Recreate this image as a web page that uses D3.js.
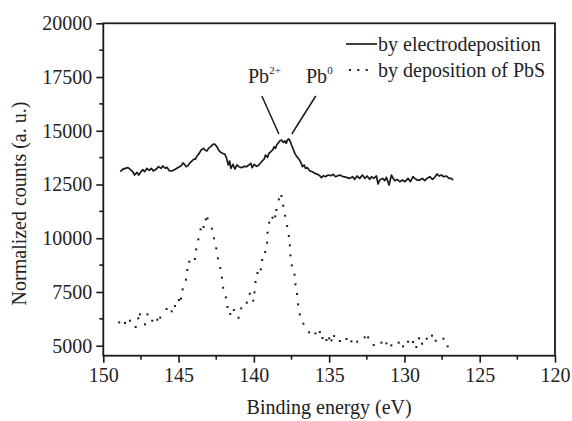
<!DOCTYPE html>
<html><head><meta charset="utf-8">
<script src="https://cdn.jsdelivr.net/npm/d3@7"></script>
<style>body{margin:0;background:#fff}svg{display:block}</style>
</head><body>
<svg id="c" width="572" height="421"></svg>
<script>
// ---- data ----
const xTicks = [150,145,140,135,130,125,120];
const yTicks = [5000,7500,10000,12500,15000,17500,20000];
const seriesNames = ["by electrodeposition","by deposition of PbS"];
const solidE = [148.87,148.72,148.54,148.36,148.21,148.05,147.92,147.76,147.65,147.50,147.37,147.26,147.10,146.95,146.81,146.68,146.50,146.33,146.17,146.04,145.88,145.77,145.62,145.44,145.22,145.00,144.82,144.71,144.60,144.51,144.38,144.22,144.11,143.98,143.89,143.76,143.63,143.50,143.34,143.23,143.12,143.01,142.87,142.72,142.61,142.46,142.34,142.21,142.08,
141.92,141.81,141.70,141.61,141.53,141.39,141.26,141.13,140.99,140.82,140.64,140.49,140.33,140.20,140.11,139.98,139.82,139.67,139.49,139.31,139.23,139.09,139.00,138.87,138.76,138.65,138.56,138.47,138.39,138.27,138.16,138.05,137.94,137.85,137.77,137.68,137.59,137.50,137.39,137.28,137.15,137.01,136.88,136.77,136.66,136.57,136.44,136.28,136.13,135.95,135.77,135.62,135.51,135.38,135.24,135.07,134.89,134.73,134.58,134.40,
134.29,134.07,133.85,133.63,133.45,133.30,133.14,132.97,132.79,132.63,132.48,132.30,132.19,132.04,131.86,131.75,131.64,131.46,131.31,131.20,131.02,130.86,130.75,130.64,130.49,130.31,130.13,129.96,129.76,129.60,129.43,129.32,129.16,128.98,128.81,128.65,128.50,128.32,128.14,127.99,127.83,127.70,127.55,127.39,127.21,127.04,126.88,126.77];
const solidV = [13097,13206,13252,13283,13206,13097,12942,13066,12942,13097,13190,13097,13252,13159,13252,13128,13206,13330,13252,13361,13252,13299,13144,13128,13206,13299,13376,13500,13438,13330,13376,13531,13593,13686,13671,13841,13950,14105,14183,14090,14059,14183,14260,14369,14384,14260,14105,13996,13950,
13903,13717,13407,13593,13252,13438,13221,13407,13329,13283,13345,13329,13407,13484,13283,13438,13345,13407,13562,13686,13872,13764,13950,14027,14105,14260,14182,14368,14415,14539,14570,14461,14524,14415,14570,14617,14524,14337,14151,13950,13795,13686,13531,13329,13407,13252,13283,13128,13097,13019,12973,12911,12817,12911,12864,12942,12911,12973,12864,12911,
12941,12864,12832,12786,12864,12739,12895,12786,12941,12786,12895,12739,12864,12786,12895,12522,12708,12786,12677,12832,12476,12941,12786,12677,12739,12631,12708,12631,12786,12631,12864,12786,12708,12708,12786,12677,12786,12864,12739,12832,12988,12895,12941,12864,12895,12786,12786,12708];
const dotE = [148.94,148.56,148.23,147.85,147.68,147.57,147.23,147.06,146.75,146.41,146.22,145.80,145.46,145.24,144.98,144.84,144.73,144.51,144.42,144.29,143.92,143.83,143.69,143.54,143.34,143.19,143.08,142.79,142.65,142.50,142.39,142.23,142.12,142.04,141.86,141.75,141.57,141.33,141.02,140.84,140.47,140.27,140.04,139.96,139.89,139.76,139.54,139.45,139.25,139.12,139.09,138.98,138.76,138.58,138.50,138.34,138.17,138.05,137.92,137.79,137.68,137.61,137.57,137.48,137.30,137.24,137.13,137.06,136.95,136.71,136.33,135.91,135.62,135.44,135.18,135.00,134.85,134.67,134.29,133.85,133.52,133.14,132.64,132.41,132.04,131.53,131.20,130.87,130.38,130.09,129.76,129.43,129.21,129.03,128.83,128.52,128.17,127.92,127.41,127.13];
const dotV = [6086,6055,6164,5869,6272,6458,5993,6458,6164,6210,6303,6707,6598,6846,7125,7187,7622,8072,8521,8909,9033,9483,9948,10414,10522,10879,10925,10445,9995,9529,9064,8614,8165,7699,7249,6800,6474,6660,6303,6738,7001,7420,7094,7482,7963,8382,8552,8987,9359,9793,10258,10724,10956,11018,11313,11809,11965,11515,11049,10569,10103,9669,9204,8738,8304,7854,7405,6924,6458,6024,5621,5574,5636,5357,5264,5342,5249,5450,5218,5311,5202,5186,5388,5388,5031,5140,5109,5015,5140,4969,5186,5171,4938,5341,5093,5326,5465,5233,5326,4969];
// annotation pointer lines: [E1,V1,E2,V2]
const pb2Line = [139.47,16617,138.34,14849];
const pb0Line = [135.89,16617,137.48,14849];

// ---- font pick (first installed serif) ----
function pickFont(list){
  const c = document.createElement("canvas").getContext("2d");
  const probe = "Binding energy 0123456789";
  for (const base of ["monospace","sans-serif"]) {}
  for (const f of list){
    let ok = true;
    for (const base of ["monospace","sans-serif"]){
      c.font = `20px ${base}`; const w0 = c.measureText(probe).width;
      c.font = `20px "${f}", ${base}`; const w1 = c.measureText(probe).width;
      if (Math.abs(w0-w1) < 0.01) { ok = false; break; }
    }
    if (ok) return `"${f}", serif`;
  }
  return "serif";
}
const FONT = pickFont(["Liberation Serif","Tinos","Times New Roman","Nimbus Roman","Nimbus Roman No9 L","Times","DejaVu Serif","Noto Serif"]);

// ---- layout ----
const svg = d3.select("#c").style("font-family",FONT);
const x = d3.scaleLinear().domain([150,120]).range([103.3,555]);
const y = d3.scaleLinear().domain([4535,20000]).range([355.7,23.3]);
const ink = "#1a1a1a", txt = "#222";

// frame
svg.append("rect").attr("x",x(150)).attr("y",y(20000)).attr("width",x(120)-x(150)).attr("height",y(4535)-y(20000))
  .attr("fill","none").attr("stroke",ink).attr("stroke-width",1.8);

// x axis
const xMinor = d3.range(147.5,120,-5);
const gx = svg.append("g").attr("transform",`translate(0,${y(4535)})`);
gx.call(d3.axisBottom(x).tickValues(xTicks).tickSize(7).tickPadding(5).tickFormat(d3.format("d")));
gx.call(g=>g.select(".domain").remove());
gx.append("g").selectAll("line").data(xMinor).join("line").attr("x1",d=>x(d)).attr("x2",d=>x(d)).attr("y1",0).attr("y2",4);
gx.selectAll("line").attr("stroke",ink).attr("stroke-width",1.6);
gx.attr("font-family",FONT).attr("font-size",20);
gx.selectAll("text").attr("fill",txt);

// y axis
const yMinor = [6250,8750,11250,13750,16250,18750];
const gy = svg.append("g").attr("transform",`translate(${x(150)},0)`);
gy.call(d3.axisLeft(y).tickValues(yTicks).tickSize(7).tickPadding(4).tickFormat(d3.format("d")));
gy.call(g=>g.select(".domain").remove());
gy.append("g").selectAll("line").data(yMinor).join("line").attr("x1",0).attr("x2",-4).attr("y1",d=>y(d)).attr("y2",d=>y(d));
gy.selectAll("line").attr("stroke",ink).attr("stroke-width",1.6);
gy.attr("font-family",FONT).attr("font-size",20);
gy.selectAll("text").attr("fill",txt);

// axis titles
svg.append("text").attr("x",(x(150)+x(120))/2).attr("y",414).attr("text-anchor","middle").attr("font-size",20).attr("fill",txt).text("Binding energy (eV)");
svg.append("text").attr("transform",`translate(26,${(y(20000)+y(4535))/2+14}) rotate(-90)`).attr("text-anchor","middle").attr("font-size",20).attr("fill",txt).text("Normalized counts (a. u.)");

// solid series
const solid = solidE.map((e,i)=>[e,solidV[i]]);
svg.append("path").datum(solid).attr("fill","none").attr("stroke",ink).attr("stroke-width",1.7).attr("stroke-linejoin","round")
  .attr("d",d3.line().x(d=>x(d[0])).y(d=>y(d[1])));

// dotted series
const dots = dotE.map((e,i)=>[e,dotV[i]]);
svg.append("g").selectAll("rect").data(dots).join("rect")
  .attr("x",d=>x(d[0])-1).attr("y",d=>y(d[1])-1).attr("width",2).attr("height",2).attr("fill",ink);

// annotation lines
[pb2Line,pb0Line].forEach(l=>{
  svg.append("line").attr("x1",x(l[0])).attr("y1",y(l[1])).attr("x2",x(l[2])).attr("y2",y(l[3])).attr("stroke",ink).attr("stroke-width",1.5);
});
// Pb labels
const t1 = svg.append("text").attr("x",248).attr("y",83).attr("font-size",20).attr("fill",txt);
t1.append("tspan").text("Pb");
t1.append("tspan").attr("dy",-9).attr("font-size",11).text("2+");
const t2 = svg.append("text").attr("x",306).attr("y",83).attr("font-size",20).attr("fill",txt);
t2.append("tspan").text("Pb");
t2.append("tspan").attr("dy",-9).attr("font-size",11).text("0");

// legend
svg.append("line").attr("x1",346).attr("x2",377).attr("y1",44).attr("y2",44).attr("stroke",ink).attr("stroke-width",1.7);
svg.append("text").attr("x",378).attr("y",51).attr("font-size",20).attr("fill",txt).text(seriesNames[0]);
svg.append("g").selectAll("rect").data([350,358.3,366.7]).join("rect").attr("x",d=>d-1).attr("y",69).attr("width",2).attr("height",2).attr("fill",ink);
svg.append("text").attr("x",378).attr("y",77).attr("font-size",20).attr("fill",txt).text(seriesNames[1]);
</script>
</body></html>
